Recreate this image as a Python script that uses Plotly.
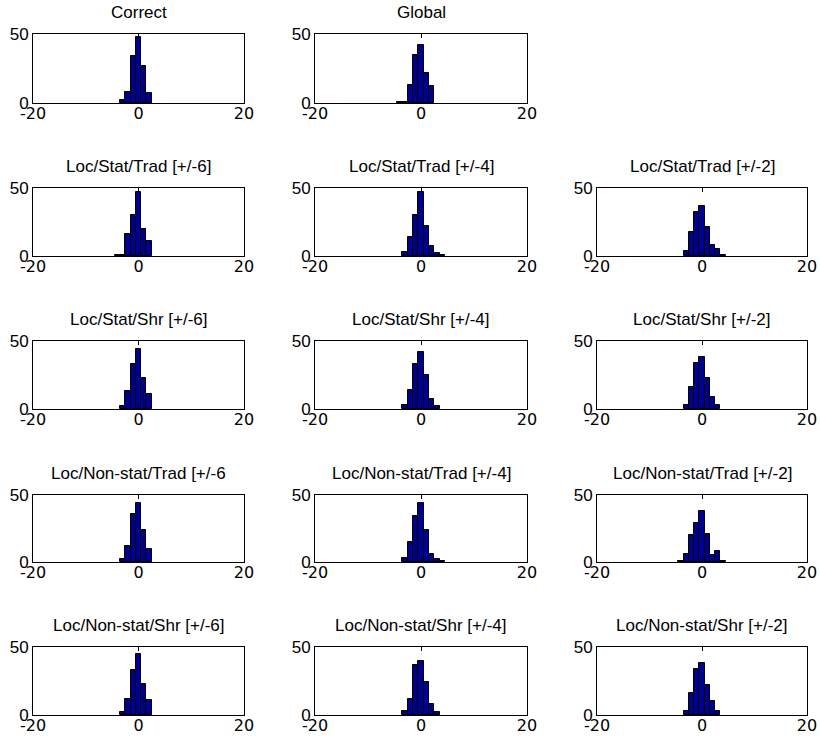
import plotly.graph_objects as go

# ---- data ----
bins = [-4, -3, -2, -1, 0, 1, 2, 3, 4]

correct            = [0,   2,  8, 34, 48, 27,  7, 0, 0]
global_            = [1,   1, 13, 35, 42, 22, 12, 0, 0]
stat_trad_6        = [1,   1, 16, 30, 47, 20, 11, 0, 0]
stat_trad_4        = [0,   3, 14, 30, 47, 22,  7, 2, 1]
stat_trad_2        = [0,   4, 18, 32, 37, 21,  8, 5, 1]
stat_shr_6         = [0,   2, 13, 33, 44, 23, 11, 0, 0]
stat_shr_4         = [0,   3, 14, 33, 42, 25,  7, 2, 0]
stat_shr_2         = [0,   3, 16, 34, 38, 23,  9, 3, 0]
nonstat_trad_6     = [0,   2, 12, 36, 44, 24, 10, 0, 0]
nonstat_trad_4     = [0,   3, 15, 34, 44, 24,  6, 2, 1]
nonstat_trad_2     = [1,   6, 20, 29, 38, 21,  5, 8, 1]
nonstat_shr_6      = [0,   2, 12, 33, 45, 23, 11, 0, 0]
nonstat_shr_4      = [0,   3, 12, 37, 40, 24,  8, 2, 0]
nonstat_shr_2      = [0,   3, 16, 34, 38, 22, 10, 3, 0]

titles = [
    "Correct", "Global", None,
    "Loc/Stat/Trad [+/-6]", "Loc/Stat/Trad [+/-4]", "Loc/Stat/Trad [+/-2]",
    "Loc/Stat/Shr [+/-6]", "Loc/Stat/Shr [+/-4]", "Loc/Stat/Shr [+/-2]",
    "Loc/Non-stat/Trad [+/-6", "Loc/Non-stat/Trad [+/-4]", "Loc/Non-stat/Trad [+/-2]",
    "Loc/Non-stat/Shr [+/-6]", "Loc/Non-stat/Shr [+/-4]", "Loc/Non-stat/Shr [+/-2]",
]
series = [
    correct, global_, None,
    stat_trad_6, stat_trad_4, stat_trad_2,
    stat_shr_6, stat_shr_4, stat_shr_2,
    nonstat_trad_6, nonstat_trad_4, nonstat_trad_2,
    nonstat_shr_6, nonstat_shr_4, nonstat_shr_2,
]

x_ticks = [-20, 0, 20]
y_ticks = [0, 50]

# ---- layout geometry (pixels) ----
W, H = 820, 746
col_px = [(33, 244), (315, 527), (597, 807)]
row_px = [(34, 103), (188, 256), (341, 409), (495, 562), (647, 715)]

FONT = "Liberation Sans, Arial, Helvetica, sans-serif"
XFONT = "DejaVu Sans, Liberation Sans, sans-serif"
fig = go.Figure()
layout = dict(
    width=W, height=H, margin=dict(l=0, r=0, t=0, b=0, pad=0), autosize=False,
    paper_bgcolor="white", plot_bgcolor="white", showlegend=False,
    bargap=0, font=dict(family=FONT, size=17, color="black"),
)
annotations = []
k = 0
for idx, (vals, title) in enumerate(zip(series, titles)):
    if vals is None:
        continue
    r, c = divmod(idx, 3)
    k += 1
    xa = "x" if k == 1 else f"x{k}"
    ya = "y" if k == 1 else f"y{k}"
    x0, x1 = col_px[c]
    y0, y1 = row_px[r]
    xs = [b for b, v in zip(bins, vals) if v > 0]
    ys = [v for v in vals if v > 0]
    fig.add_trace(go.Bar(
        x=xs, y=ys, width=1.0, xaxis=xa, yaxis=ya,
        marker=dict(color="#00008F", line=dict(color="black", width=1)),
        hoverinfo="x+y",
    ))
    common = dict(showline=True, linecolor="black", linewidth=1, mirror="ticks",
                  ticks="inside", ticklen=4, tickcolor="black", showgrid=False,
                  zeroline=False, automargin=False, fixedrange=True)
    layout["xaxis" if k == 1 else f"xaxis{k}"] = dict(
        domain=[x0 / W, x1 / W], range=[-20, 20], tickvals=x_ticks,
        ticktext=[str(v) for v in x_ticks], anchor=ya, ticklabelstandoff=-4,
        tickfont=dict(family=XFONT, size=16, color="black"), **common)
    layout["yaxis" if k == 1 else f"yaxis{k}"] = dict(
        domain=[1 - y1 / H, 1 - y0 / H], range=[0, 50], tickvals=y_ticks,
        ticktext=[str(v) for v in y_ticks], anchor=xa, ticklabelstandoff=0,
        ticklabelshift=0, tickfont=dict(family=FONT, size=17, color="black"),
        **common)
    annotations.append(dict(
        text=title, xref="paper", yref="paper",
        x=(x0 + x1) / 2 / W, y=1 - y0 / H, xanchor="center", yanchor="bottom",
        yshift=10, showarrow=False, font=dict(family=FONT, size=17, color="black"),
    ))

layout["annotations"] = annotations
fig.update_layout(**layout)
fig.write_html("out.html")
